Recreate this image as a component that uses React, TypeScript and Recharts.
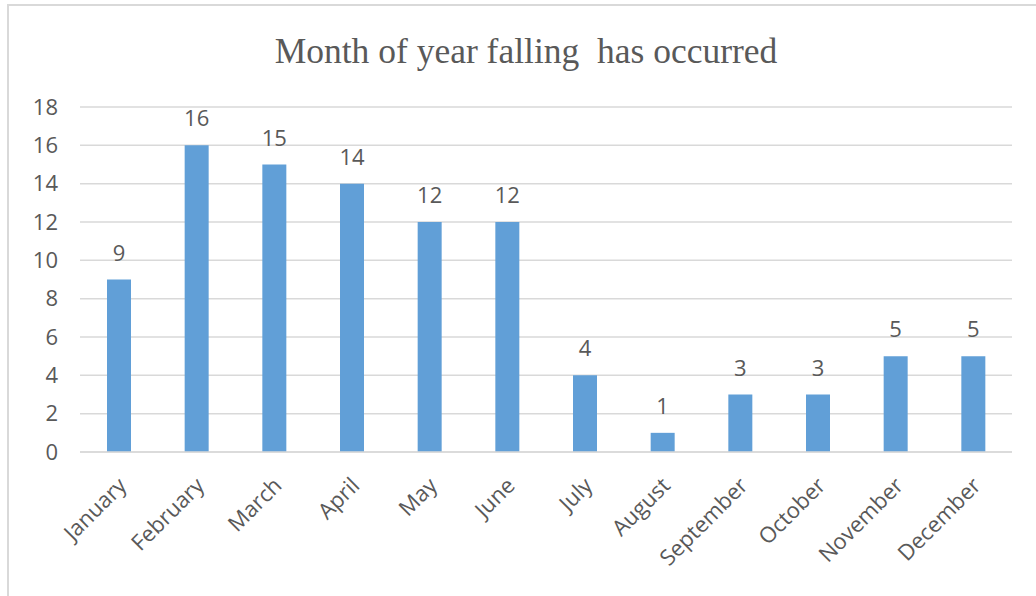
import { Bar, BarChart, CartesianGrid, LabelList, XAxis, YAxis } from "recharts";

const months = [
  "January",
  "February",
  "March",
  "April",
  "May",
  "June",
  "July",
  "August",
  "September",
  "October",
  "November",
  "December",
];
const counts = [9, 16, 15, 14, 12, 12, 4, 1, 3, 3, 5, 5];
const yTicks = [0, 2, 4, 6, 8, 10, 12, 14, 16, 18];

const data = months.map((m, i) => ({ month: m, count: counts[i] }));

const FONT = "'Open Sans', 'Liberation Sans', sans-serif";
const GRAY = "#595959";

const MonthTick = ({ x, y, payload }: any) => (
  <text
    x={x + 9}
    y={y + 27}
    transform={`rotate(-45, ${x + 9}, ${y + 27})`}
    textAnchor="end"
    fill={GRAY}
    fontSize={22}
    fontFamily={FONT}
  >
    {payload.value}
  </text>
);

export default function App() {
  return (
    <div
      style={{
        position: "absolute",
        left: 0,
        top: 0,
        width: 1036,
        height: 596,
        overflow: "hidden",
        background: "#fff",
      }}
    >
      <div
        style={{
          position: "absolute",
          left: 7,
          top: 4,
          width: 1060,
          height: 620,
          border: "2px solid #d9d9d9",
        }}
      />
      <div
        style={{
          position: "absolute",
          left: 0,
          width: 1052,
          top: 30,
          textAlign: "center",
          fontFamily: "'Liberation Serif', 'Times New Roman', serif",
          fontSize: 35.5,
          color: GRAY,
          whiteSpace: "pre",
        }}
      >
        Month of year falling  has occurred
      </div>
      <BarChart
        width={1036}
        height={596}
        data={data}
        margin={{ top: 107, right: 24, bottom: 0, left: 0 }}
        style={{ position: "absolute", left: 0, top: 0 }}
      >
        <CartesianGrid vertical={false} stroke="#d9d9d9" strokeWidth={1.5} />
        <XAxis
          dataKey="month"
          interval={0}
          height={144}
          axisLine={{ stroke: "#d9d9d9", strokeWidth: 1.5 }}
          tickLine={false}
          tick={<MonthTick />}
        />
        <YAxis
          width={80}
          domain={[0, 18]}
          ticks={yTicks}
          axisLine={false}
          tickLine={false}
          tickSize={0}
          tickMargin={22}
          tick={{ fill: GRAY, fontSize: 22, fontFamily: FONT }}
        />
        <Bar dataKey="count" fill="#619fd7" barSize={24} isAnimationActive={false}>
          <LabelList
            dataKey="count"
            position="top"
            offset={19}
            fill={GRAY}
            fontSize={22}
            fontFamily={FONT}
          />
        </Bar>
      </BarChart>
    </div>
  );
}
